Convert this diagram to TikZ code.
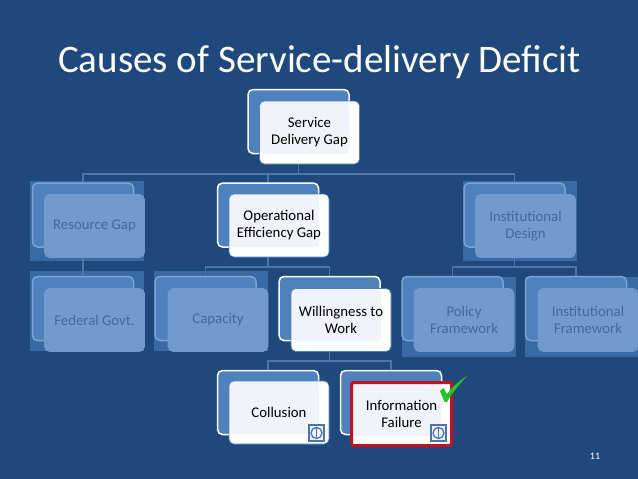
\documentclass[tikz,border=0pt]{standalone}
\usepackage{fontspec}
\setmainfont{Carlito}
\definecolor{slidebg}{HTML}{1F497D}
\definecolor{linkcol}{HTML}{4A76AC}
\definecolor{backcol}{HTML}{4F81BD}
\definecolor{palecol}{HTML}{F0F3F9}
\definecolor{dimpatch}{HTML}{3A6AA3}
\definecolor{dimedge}{HTML}{7FA3D0}
\definecolor{dimfront}{HTML}{7099CC}
\definecolor{dimstrip}{HTML}{729ACD}
\definecolor{dimtext}{HTML}{3F6BA3}
\definecolor{redbox}{HTML}{C5111F}
\definecolor{tickcol}{HTML}{22C42A}
\tikzset{
  backbox/.style={draw=white,line width=1.5pt,fill=backcol,rounded corners=5pt,minimum width=101pt,minimum height=64pt},
  dimback/.style={backbox,draw=dimedge},
  frontbox/.style={rounded corners=5pt,minimum width=100pt,minimum height=63pt,align=center,inner sep=0pt,
    text=black,font=\fontsize{14.8}{17}\selectfont,fill=white,draw=backcol,line width=0.6pt,
    path picture={\fill[palecol] (path picture bounding box.north west) rectangle ([xshift=-10pt,yshift=10pt]path picture bounding box.south east);}},
  dimfront/.style={frontbox,text=dimtext,fill=dimfront,draw=dimfront,
    path picture={\fill[dimstrip] (path picture bounding box.north west) rectangle ([xshift=-10pt,yshift=10pt]path picture bounding box.south east);}},
  patchbox/.style={fill=dimpatch,minimum width=114pt,minimum height=80pt,inner sep=0pt},
  link/.style={draw=linkcol,line width=1.2pt},
  badge/.style={draw=linkcol,fill=palecol,line width=1.8pt,minimum width=15.5pt,minimum height=16.5pt,inner sep=0pt},
}
\begin{document}
\begin{tikzpicture}[x=1pt,y=-1pt]
\useasboundingbox (0,0) rectangle (638,479);
\fill[slidebg] (0,0) rectangle (638,479);
\node[text=white,font=\fontsize{39}{42}\selectfont,anchor=base west,inner sep=0pt] (title) at (58,72.5) {Causes of Service-delivery Deficit};
\node[text=white,font=\fontsize{10}{12}\selectfont,inner sep=0pt] (pagenum) at (595,456) {11};
% faded squares
\node[patchbox] (resp) at (87,221) {};
\node[patchbox] (fedp) at (87,311) {};
\node[patchbox] (capp) at (211,311) {};
\node[patchbox] (insp) at (519.5,221) {};
\node[patchbox] (polp) at (459,316.5) {};
\node[patchbox] (frap) at (581.5,316.5) {};
% back boxes
\node[backbox] (gapb) at (298.5,121.5) {};
\node[backbox] (opeb) at (268,215) {};
\node[backbox] (wilb) at (329.5,308.5) {};
\node[backbox] (colb) at (268,402.5) {};
\node[backbox] (infb) at (391,402.5) {};
\node[dimback] (resb) at (83,215) {};
\node[dimback] (fedb) at (83,308.5) {};
\node[dimback] (capb) at (205.5,308.5) {};
\node[dimback] (insb) at (514.5,215) {};
\node[dimback] (polb) at (452.5,308.5) {};
\node[dimback] (frab) at (576,308.5) {};
% links
\coordinate (top) at (298.5,174);
\coordinate (mid) at (268,267);
\coordinate (rgt) at (514.5,267);
\coordinate (low) at (329.5,361);
\draw[link] (gapb.south) -- (top);
\draw[link] (top) -| (resb.north);
\draw[link] (top) -| (opeb.north);
\draw[link] (top) -| (insb.north);
\draw[link] (resb.south) -- (fedb.north);
\draw[link] (opeb.south) -- (mid);
\draw[link] (mid) -| (capb.north);
\draw[link] (mid) -| (wilb.north);
\draw[link] (insb.south) -- (rgt);
\draw[link] (rgt) -| (polb.north);
\draw[link] (rgt) -| (frab.north);
\draw[link] (wilb.south) -- (low);
\draw[link] (low) -| (colb.north);
\draw[link] (low) -| (infb.north);
% front boxes
\node[frontbox] (gap) at (309.5,132.5) {Service\\Delivery Gap};
\node[frontbox] (ope) at (279,225.5) {Operational\\Efficiency Gap};
\node[frontbox] (wil) at (341,320) {Willingness to\\Work};
\node[frontbox] (col) at (279,412.5) {Collusion};
\node[frontbox,draw=redbox,line width=3pt,rounded corners=2pt] (inf) at (401.5,414) {Information\\Failure};
\node[dimfront] (res) at (94.5,226) {Resource Gap};
\node[dimfront] (fed) at (94.5,320) {Federal Govt.};
\node[dimfront] (cap) at (218,320) {Capacity};
\node[dimfront] (ins) at (525.5,226) {Institutional\\Design};
\node[dimfront] (pol) at (464,320) {Policy\\Framework};
\node[dimfront] (fra) at (588,320) {Institutional\\Framework};
% badges
\foreach \name/\x in {cola/316.5,infa/438.5} {
  \node[badge] (\name) at (\x,433) {};
  \draw[linkcol,line width=1.3pt] (\name) circle (5.5pt);
  \draw[linkcol,line width=1.6pt] ([yshift=-5pt]\name.center) -- ([yshift=5pt]\name.center);
}
% tick
\fill[tickcol] (440,391) -- (443.5,388) -- (447,394) .. controls (452,387) and (459,381) .. (467,376) .. controls (459,385) and (452,393) .. (447,402) -- (444.5,402) -- cycle;
\end{tikzpicture}
\end{document}
